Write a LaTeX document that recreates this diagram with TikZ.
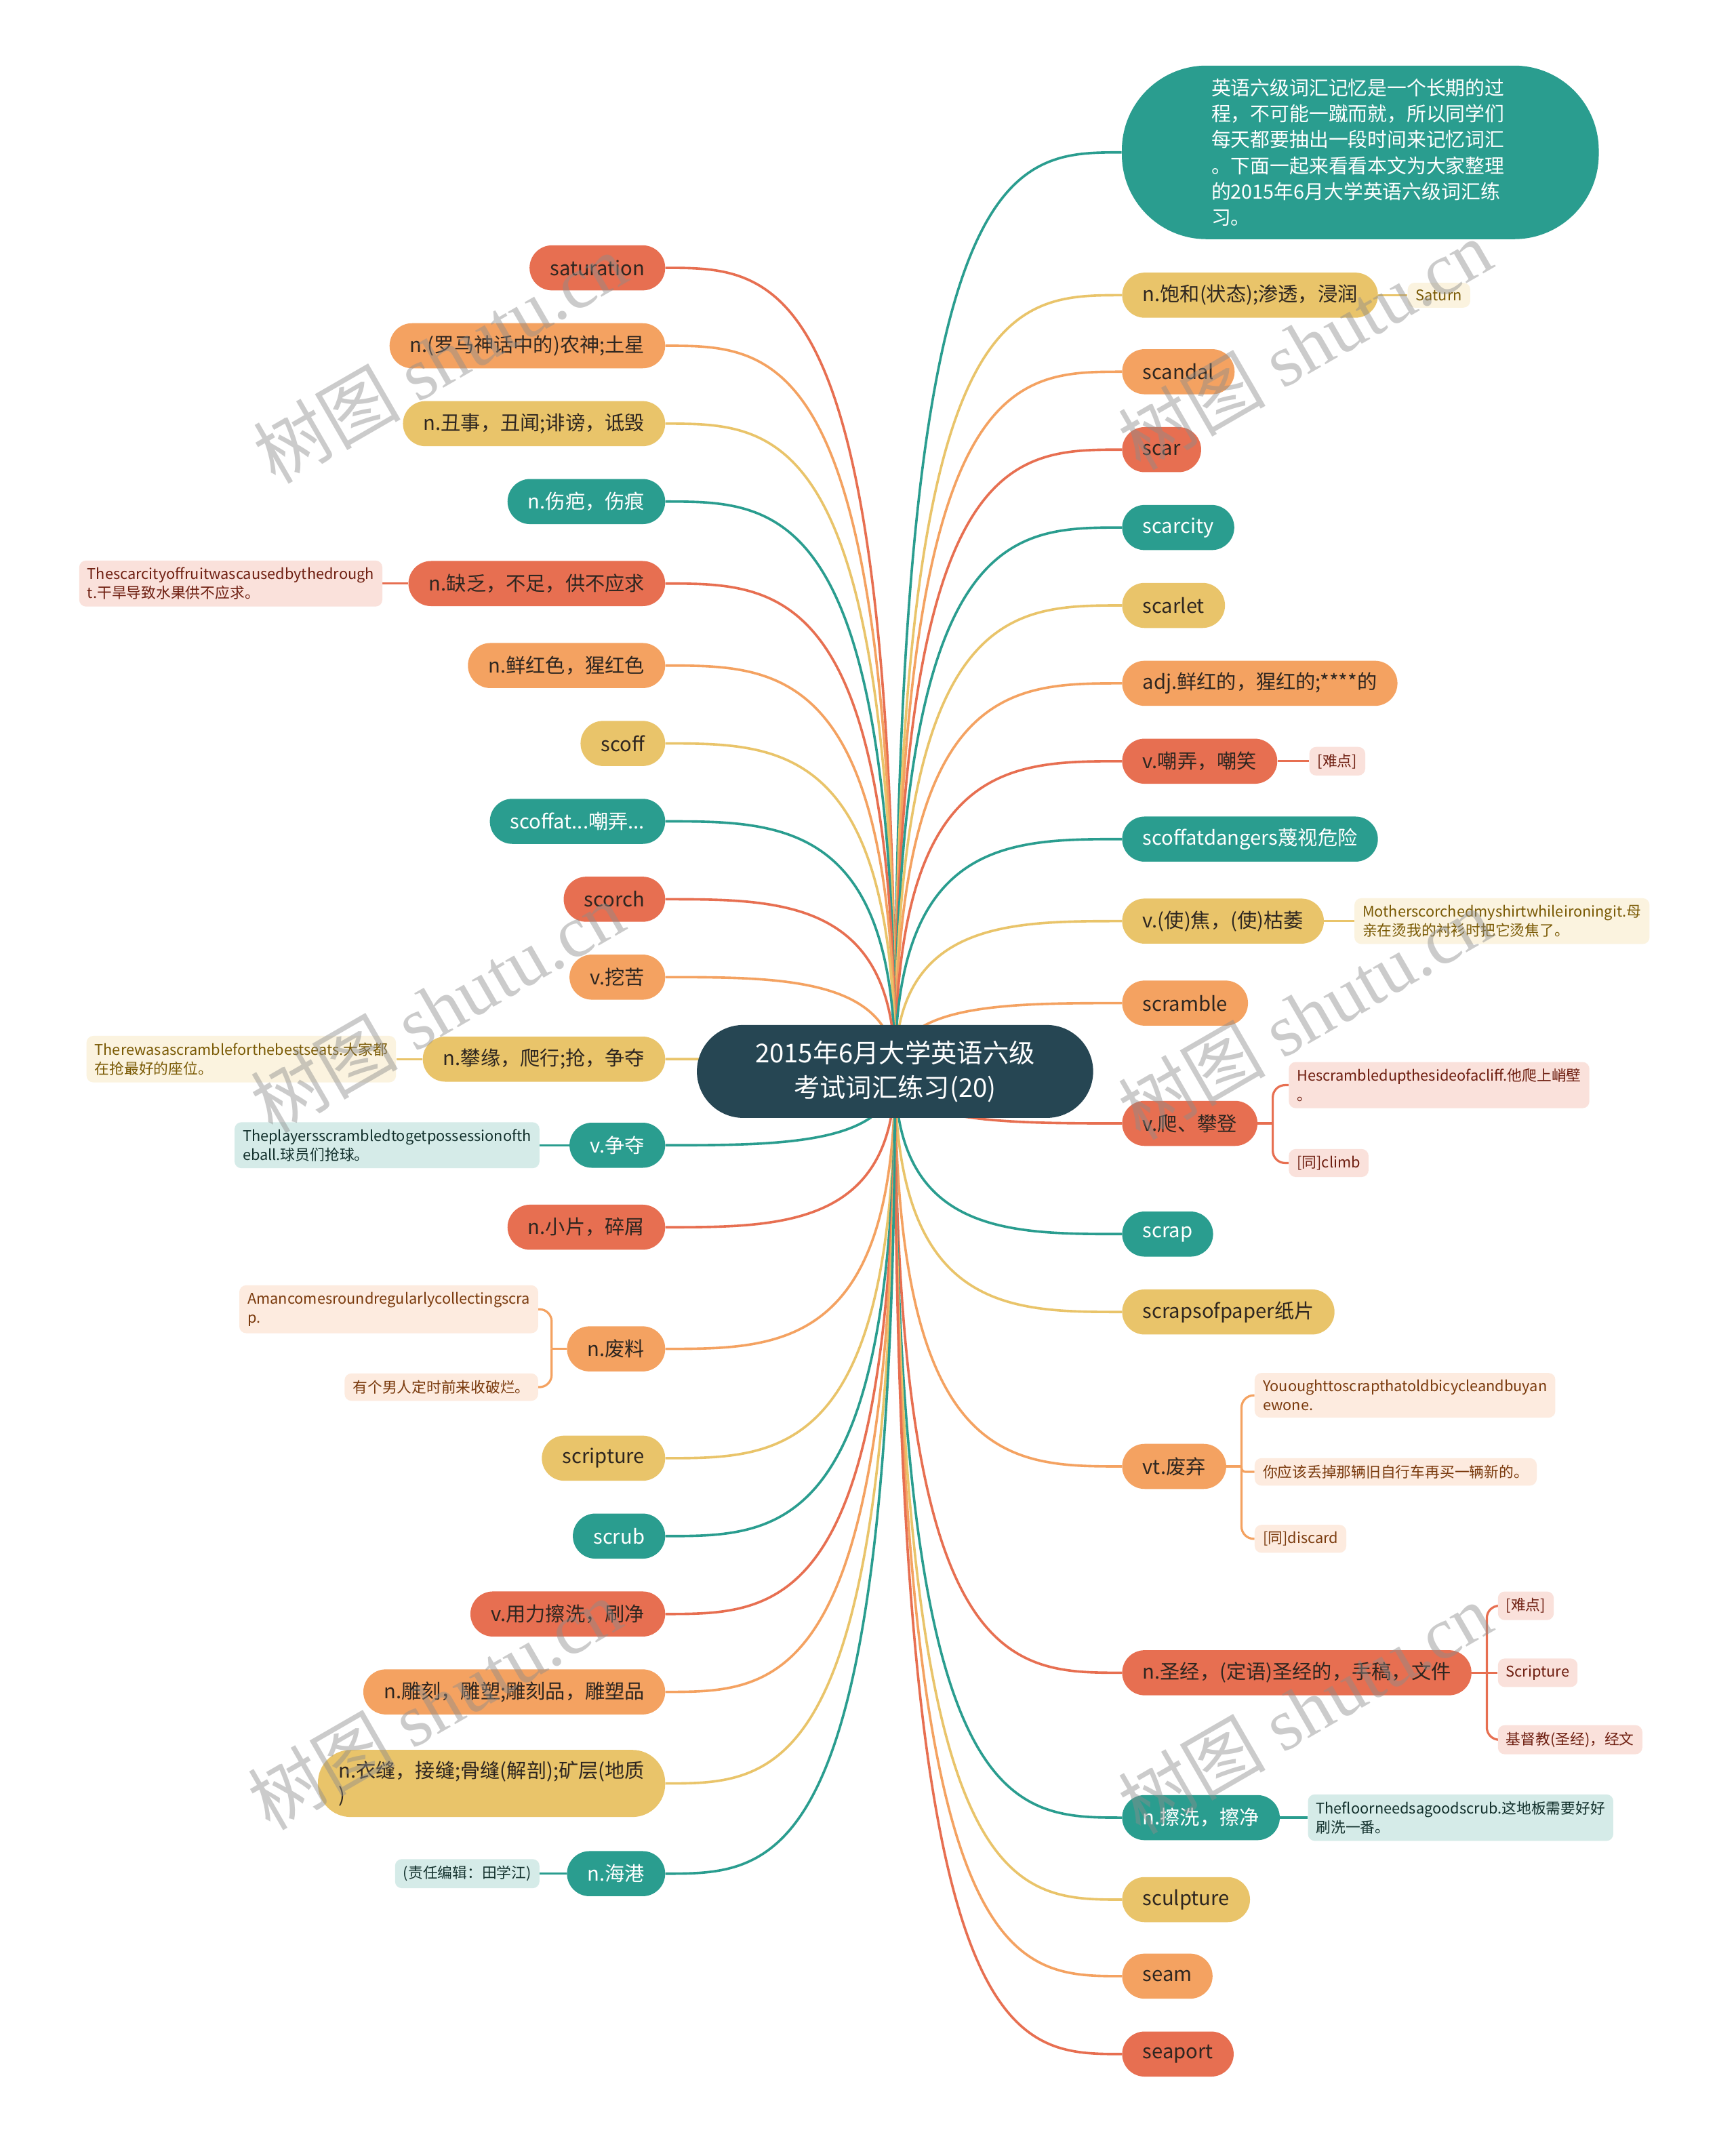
\documentclass[tikz,border=0pt]{standalone}
\usepackage{fontspec}
\setmainfont{Noto Sans CJK SC}
\newfontfamily\wmserif{Liberation Serif}
\usetikzlibrary{calc,backgrounds}
\definecolor{cT}{HTML}{2A9D8F}
\definecolor{cY}{HTML}{E9C46A}
\definecolor{cO}{HTML}{F4A261}
\definecolor{cR}{HTML}{E76F51}
\definecolor{cD}{HTML}{264653}
\definecolor{txd}{HTML}{2E2620}
\definecolor{bgT}{HTML}{D5EBE8}
\definecolor{bgY}{HTML}{FBF3DF}
\definecolor{bgO}{HTML}{FDEBDF}
\definecolor{bgR}{HTML}{FAE1DB}
\definecolor{tT}{HTML}{12302C}
\definecolor{tY}{HTML}{7A5A05}
\definecolor{tO}{HTML}{7A3A0D}
\definecolor{tR}{HTML}{6E1E10}
\newcommand\mmconn[2]{\draw[ln,#1] let \p1=(root.center), \p2=(#2) in (\p1) .. controls (\x1,\y2) and ({\x1+0.5*(\x2-\x1)},\y2) .. (\p2);}
\begin{document}
\begin{tikzpicture}[x=1pt,y=-1pt,
  br/.style={rounded corners=16.5pt, minimum height=33pt, inner xsep=15pt, inner ysep=3pt, align=center, font=\fontsize{14.5}{18}\selectfont},
  brT/.style={br, fill=cT, text=white},
  brY/.style={br, fill=cY, text=txd},
  brO/.style={br, fill=cO, text=txd},
  brR/.style={br, fill=cR, text=txd},
  ch/.style={rounded corners=5pt, inner xsep=6pt, inner ysep=5pt, align=left, font=\fontsize{10.8}{14}\selectfont},
  chT/.style={ch, fill=bgT, text=tT},
  chY/.style={ch, fill=bgY, text=tY},
  chO/.style={ch, fill=bgO, text=tO},
  chR/.style={ch, fill=bgR, text=tR},
  ln/.style={line width=1.8pt},
  lc/.style={line width=1.6pt},
  wm/.style={rotate=30, text=black!45, opacity=0.45, font=\fontsize{54}{54}\selectfont}
]
\useasboundingbox (0,0) rectangle (1270,1568.1);

% center
\node[fill=cD, text=white, rounded corners=34pt, minimum width=290pt, minimum height=68pt, align=center, font=\fontsize{19}{25}\selectfont] (root) at (655,784) {2015年6月大学英语六级\\考试词汇练习(20)};

% intro
\node[fill=cT, text=white, rounded corners=62pt, minimum width=349pt, minimum height=127pt, text width=218pt, align=left, font=\fontsize{14.3}{19}\selectfont] (intro) at (995.5,111.5) {英语六级词汇记忆是一个长期的过\\程，不可能一蹴而就，所以同学们\\每天都要抽出一段时间来记忆词汇\\。下面一起来看看本文为大家整理\\的2015年6月大学英语六级词汇练\\习。};

% right branches
\node[brY, anchor=west] (r1) at (821,216) {n.饱和(状态);渗透，浸润};
\node[brO, anchor=west] (r2) at (821,272) {scandal};
\node[brR, anchor=west] (r3) at (821,329) {scar};
\node[brT, anchor=west] (r4) at (821,386) {scarcity};
\node[brY, anchor=west] (r5) at (821,443) {scarlet};
\node[brO, anchor=west] (r6) at (821,500) {adj.鲜红的，猩红的;****的};
\node[brR, anchor=west] (r7) at (821,557) {v.嘲弄，嘲笑};
\node[brT, anchor=west] (r8) at (821,614) {scoffatdangers蔑视危险};
\node[brY, anchor=west] (r9) at (821,674) {v.(使)焦，(使)枯萎};
\node[brO, anchor=west] (r10) at (821,734) {scramble};
\node[brR, anchor=west] (r11) at (821,822) {v.爬、攀登};
\node[brT, anchor=west] (r12) at (821,903) {scrap};
\node[brY, anchor=west] (r13) at (821,960) {scrapsofpaper纸片};
\node[brO, anchor=west] (r14) at (821,1073) {vt.废弃};
\node[brR, anchor=west] (r15) at (821,1224) {n.圣经，(定语)圣经的，手稿，文件};
\node[brT, anchor=west] (r16) at (821,1330) {n.擦洗，擦净};
\node[brY, anchor=west] (r17) at (821,1390) {sculpture};
\node[brO, anchor=west] (r18) at (821,1446) {seam};
\node[brR, anchor=west] (r19) at (821,1503) {seaport};

% left branches
\node[brR, anchor=east] (l1) at (487,196) {saturation};
\node[brO, anchor=east] (l2) at (487,253) {n.(罗马神话中的)农神;土星};
\node[brY, anchor=east] (l3) at (487,310) {n.丑事，丑闻;诽谤，诋毁};
\node[brT, anchor=east] (l4) at (487,367) {n.伤疤，伤痕};
\node[brR, anchor=east] (l5) at (487,427) {n.缺乏，不足，供不应求};
\node[brO, anchor=east] (l6) at (487,487) {n.鲜红色，猩红色};
\node[brY, anchor=east] (l7) at (487,544) {scoff};
\node[brT, anchor=east] (l8) at (487,601) {scoffat...嘲弄...};
\node[brR, anchor=east] (l9) at (487,658) {scorch};
\node[brO, anchor=east] (l10) at (487,715) {v.挖苦};
\node[brY, anchor=east] (l11) at (487,775) {n.攀缘，爬行;抢，争夺};
\node[brT, anchor=east] (l12) at (487,838) {v.争夺};
\node[brR, anchor=east] (l13) at (487,898) {n.小片，碎屑};
\node[brO, anchor=east] (l14) at (487,987) {n.废料};
\node[brY, anchor=east] (l15) at (487,1067) {scripture};
\node[brT, anchor=east] (l16) at (487,1124) {scrub};
\node[brR, anchor=east] (l17) at (487,1181) {v.用力擦洗，刷净};
\node[brO, anchor=east] (l18) at (487,1238) {n.雕刻，雕塑;雕刻品，雕塑品};
\node[brY, anchor=east, align=left, inner ysep=8pt, rounded corners=24pt] (l19) at (487,1305) {n.衣缝，接缝;骨缝(解剖);矿层(地质\\)};
\node[brT, anchor=east] (l20) at (487,1371) {n.海港};

% right children
\node[chY, anchor=west] (c1) at (1030,216) {Saturn};
\node[chR, anchor=west] (c7) at (958,557) {[难点]};
\node[chY, anchor=west] (c9) at (991,674) {Motherscorchedmyshirtwhileironingit.母\\亲在烫我的衬衫时把它烫焦了。};
\node[chR, anchor=west] (c11a) at (943,794) {Hescrambledupthesideofacliff.他爬上峭壁\\。};
\node[chR, anchor=west] (c11b) at (943,851) {[同]climb};
\node[chO, anchor=west] (c14a) at (918,1021) {Yououghttoscrapthatoldbicycleandbuyan\\ewone.};
\node[chO, anchor=west] (c14b) at (918,1077) {你应该丢掉那辆旧自行车再买一辆新的。};
\node[chO, anchor=west] (c14c) at (918,1126) {[同]discard};
\node[chR, anchor=west] (c15a) at (1096,1175) {[难点]};
\node[chR, anchor=west] (c15b) at (1096,1224) {Scripture};
\node[chR, anchor=west] (c15c) at (1096,1273) {基督教(圣经)，经文};
\node[chT, anchor=west] (c16) at (957,1330) {Thefloorneedsagoodscrub.这地板需要好好\\刷洗一番。};

% left children
\node[chR, anchor=east] (d5) at (280,427) {Thescarcityoffruitwascausedbythedrough\\t.干旱导致水果供不应求。};
\node[chY, anchor=east] (d11) at (290,775) {Therewasascrambleforthebestseats.大家都\\在抢最好的座位。};
\node[chT, anchor=east] (d12) at (395,838) {Theplayersscrambledtogetpossessionofth\\eball.球员们抢球。};
\node[chO, anchor=east] (d14a) at (394,958) {Amancomesroundregularlycollectingscra\\p.};
\node[chO, anchor=east] (d14b) at (394,1015) {有个男人定时前来收破烂。};
\node[chT, anchor=east] (d20) at (395,1371) {(责任编辑：田学江)};

\coordinate (b11) at ([xshift=11pt]r11.east);
\coordinate (b14) at ([xshift=11pt]r14.east);
\coordinate (b15) at ([xshift=11pt]r15.east);
\coordinate (e14) at ([xshift=-11pt]l14.west);

\begin{scope}[on background layer]
\fill[white] (0,0) rectangle (1270,1568.1);
\mmconn{cT}{intro.west}
\mmconn{cY}{r1.west}
\mmconn{cO}{r2.west}
\mmconn{cR}{r3.west}
\mmconn{cT}{r4.west}
\mmconn{cY}{r5.west}
\mmconn{cO}{r6.west}
\mmconn{cR}{r7.west}
\mmconn{cT}{r8.west}
\mmconn{cY}{r9.west}
\mmconn{cO}{r10.west}
\mmconn{cR}{r11.west}
\mmconn{cT}{r12.west}
\mmconn{cY}{r13.west}
\mmconn{cO}{r14.west}
\mmconn{cR}{r15.west}
\mmconn{cT}{r16.west}
\mmconn{cY}{r17.west}
\mmconn{cO}{r18.west}
\mmconn{cR}{r19.west}
\mmconn{cR}{l1.east}
\mmconn{cO}{l2.east}
\mmconn{cY}{l3.east}
\mmconn{cT}{l4.east}
\mmconn{cR}{l5.east}
\mmconn{cO}{l6.east}
\mmconn{cY}{l7.east}
\mmconn{cT}{l8.east}
\mmconn{cR}{l9.east}
\mmconn{cO}{l10.east}
\mmconn{cY}{l11.east}
\mmconn{cT}{l12.east}
\mmconn{cR}{l13.east}
\mmconn{cO}{l14.east}
\mmconn{cY}{l15.east}
\mmconn{cT}{l16.east}
\mmconn{cR}{l17.east}
\mmconn{cO}{l18.east}
\mmconn{cY}{l19.east}
\mmconn{cT}{l20.east}
% children connectors
\draw[lc,cY] (r1.east) -- (c1.west);
\draw[lc,cR] (r7.east) -- (c7.west);
\draw[lc,cY] (r9.east) -- (c9.west);
\draw[lc,cT] (r16.east) -- (c16.west);
\draw[lc,cR] (l5.west) -- (d5.east);
\draw[lc,cY] (l11.west) -- (d11.east);
\draw[lc,cT] (l12.west) -- (d12.east);
\draw[lc,cT] (l20.west) -- (d20.east);
\draw[lc,cR] (r11.east) -- (b11);
\draw[lc,cR,rounded corners=9pt] (b11) |- (c11a.west);
\draw[lc,cR,rounded corners=9pt] (b11) |- (c11b.west);
\draw[lc,cO] (r14.east) -- (b14);
\draw[lc,cO,rounded corners=9pt] (b14) |- (c14a.west);
\draw[lc,cO,rounded corners=3pt] (b14) |- (c14b.west);
\draw[lc,cO,rounded corners=9pt] (b14) |- (c14c.west);
\draw[lc,cR] (r15.east) -- (b15);
\draw[lc,cR,rounded corners=9pt] (b15) |- (c15a.west);
\draw[lc,cR] (b15) -- (c15b.west);
\draw[lc,cR,rounded corners=9pt] (b15) |- (c15c.west);
\draw[lc,cO] (l14.west) -- (e14);
\draw[lc,cO,rounded corners=9pt] (e14) |- (d14a.east);
\draw[lc,cO,rounded corners=9pt] (e14) |- (d14b.east);
\end{scope}

% watermarks
\node[wm] (w1) at (322,262) {树图 {\wmserif shutu.cn}};
\node[wm] (w2) at (955,252) {树图 {\wmserif shutu.cn}};
\node[wm] (w3) at (320,737) {树图 {\wmserif shutu.cn}};
\node[wm] (w4) at (955,742) {树图 {\wmserif shutu.cn}};
\node[wm] (w5) at (318,1247) {树图 {\wmserif shutu.cn}};
\node[wm] (w6) at (955,1250) {树图 {\wmserif shutu.cn}};
\end{tikzpicture}
\end{document}
